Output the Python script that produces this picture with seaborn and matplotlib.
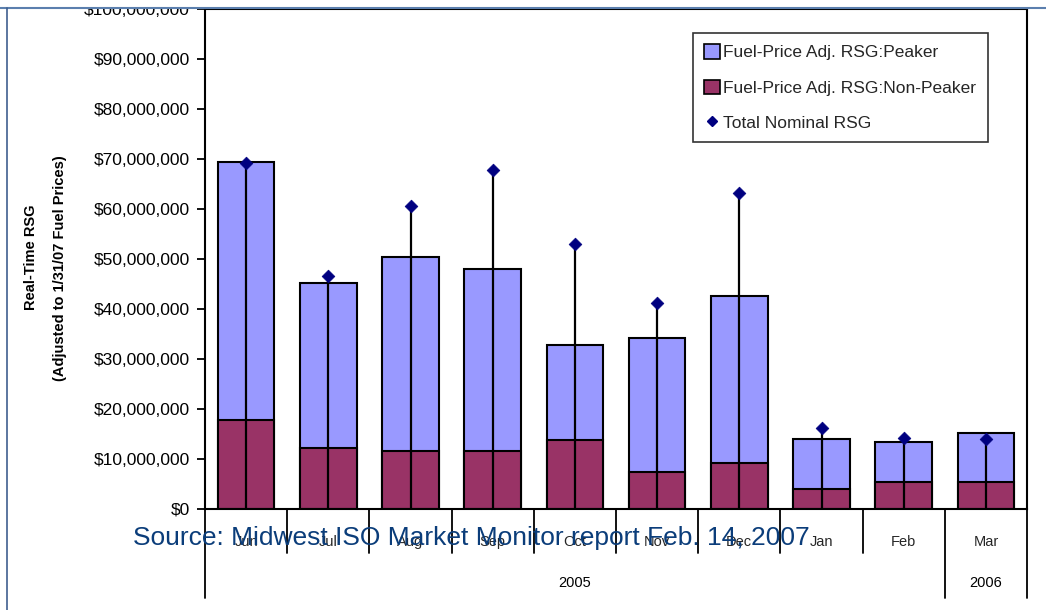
import numpy as np
import pandas as pd
import matplotlib
matplotlib.use("Agg")
import matplotlib.pyplot as plt
import matplotlib.transforms as mtransforms
from matplotlib.patches import Patch, Rectangle
from matplotlib.lines import Line2D
import seaborn as sns

# Monthly real-time RSG, millions of dollars
months = ["Jun", "Jul", "Aug", "Sep", "Oct", "Nov", "Dec", "Jan", "Feb", "Mar"]
non_peaker = [17.9, 12.3, 11.7, 11.7, 13.9, 7.5, 9.2, 4.0, 5.4, 5.4]
peaker = [51.5, 33.0, 38.8, 36.2, 19.0, 26.7, 33.5, 10.1, 8.1, 9.8]
nominal_total = [69.2, 46.7, 60.6, 67.8, 53.0, 41.3, 63.3, 16.2, 14.2, 14.1]
year_groups = [("2005", 0, 8), ("2006", 9, 9)]

sns.set_style("white")
plt.rcParams["font.family"] = ["Liberation Sans", "DejaVu Sans"]

scale = 1e6
df = pd.DataFrame({
    "month": months,
    "non_peaker": np.array(non_peaker) * scale,
    "total": (np.array(non_peaker) + np.array(peaker)) * scale,
    "nominal": np.array(nominal_total) * scale,
})

W, H = 1046, 610
fig = plt.figure(figsize=(W / 100, H / 100), dpi=100)
fig.patch.set_facecolor("white")
ax = fig.add_axes([205 / W, (H - 509) / H, (1027 - 205) / W, (509 - 9) / H])

peaker_color = "#9999FF"
nonpeaker_color = "#993366"
diamond_color = "#000080"

# stacked bars: full stack in peaker colour, non-peaker part drawn over it
sns.barplot(data=df, x="month", y="total", order=months, color=peaker_color,
            saturation=1, width=0.69, edgecolor="black", linewidth=1.5, ax=ax)
sns.barplot(data=df, x="month", y="non_peaker", order=months, color=nonpeaker_color,
            saturation=1, width=0.69, edgecolor="black", linewidth=1.5, ax=ax)

# drop lines from zero up to the nominal total, with diamond markers
xs = np.arange(len(months))
ax.vlines(xs, 0, df["nominal"], color="black", linewidth=1.6, zorder=3)
sns.scatterplot(x=xs, y=df["nominal"], marker="D", s=42, color=diamond_color,
                edgecolor=diamond_color, linewidth=0.5, zorder=4, ax=ax, legend=False)

ax.set_xlim(-0.5, len(months) - 0.5)
ax.set_ylim(0, 100e6)
ax.set_yticks(np.arange(0, 100e6 + 1, 10e6))
ax.yaxis.set_major_formatter(matplotlib.ticker.FuncFormatter(lambda v, p: "${:,.0f}".format(v)))
ax.tick_params(axis="y", which="major", direction="out", length=6, width=1.3,
               colors="black", labelsize=12.5, pad=5, left=True)
ax.tick_params(axis="x", length=0, labelsize=10.5, pad=19)
ax.set_xlabel("")
ax.set_ylabel("")
for s in ax.spines.values():
    s.set_color("black")
    s.set_linewidth(1.5)

# category separators and year grouping below the axis
trans = mtransforms.blended_transform_factory(ax.transData, ax.transAxes)
ax_h = 500.0
short_end = -(553 - 509) / ax_h
long_end = -(598 - 509) / ax_h
long_bounds = {-0.5, 8.5, len(months) - 0.5}
for b in np.arange(-0.5, len(months), 1.0):
    end = long_end if b in long_bounds else short_end
    ax.plot([b, b], [0, end], color="black", linewidth=1.3, transform=trans, clip_on=False)
for label, i0, i1 in year_groups:
    ax.text((i0 + i1) / 2, -(583 - 509) / ax_h, label, transform=trans,
            ha="center", va="center", fontsize=10.5, color="black")

# axis title, two lines
fig.text(31 / W, (H - 257) / H, "Real-Time RSG", rotation=90, ha="center", va="center",
         fontsize=10.5, fontweight="bold", color="black")
fig.text(60 / W, (H - 268) / H, "(Adjusted to 1/31/07 Fuel Prices)", rotation=90,
         ha="center", va="center", fontsize=10.5, fontweight="bold", color="black")

# legend
handles = [
    Patch(facecolor=peaker_color, edgecolor="black", linewidth=1.2, label="Fuel-Price Adj. RSG:Peaker"),
    Patch(facecolor=nonpeaker_color, edgecolor="black", linewidth=1.2, label="Fuel-Price Adj. RSG:Non-Peaker"),
    Line2D([], [], marker="D", color=diamond_color, linestyle="none", markersize=5.5,
           label="Total Nominal RSG"),
]
leg = ax.legend(handles=handles, loc="upper left",
                bbox_to_anchor=(693 / W, (H - 33) / H), bbox_transform=fig.transFigure,
                fontsize=12.5, frameon=True, fancybox=False, edgecolor="black",
                handlelength=0.9, handleheight=0.9, handletextpad=0.2,
                labelspacing=1.1, borderpad=0.65, borderaxespad=0)
leg.get_frame().set_linewidth(1.2)

# source note
fig.text(133 / W, (H - 538) / H, "Source: Midwest ISO Market Monitor report Feb. 14, 2007",
         ha="left", va="center", fontsize=19, color="#0B3D7A", zorder=20)

# slide frame
fig.add_artist(Rectangle((0, (H - 8) / H), 1, 8 / H, transform=fig.transFigure,
                         facecolor="white", edgecolor="none", zorder=15))
fig.add_artist(Line2D([0, 1], [(H - 8) / H] * 2, transform=fig.transFigure,
                      color="#5B7FAE", linewidth=1.5, zorder=16))
fig.add_artist(Line2D([7 / W] * 2, [0, (H - 8) / H], transform=fig.transFigure,
                      color="#3F5F8F", linewidth=1.2, zorder=16))

fig.savefig("out.png", dpi=100, facecolor="white")
